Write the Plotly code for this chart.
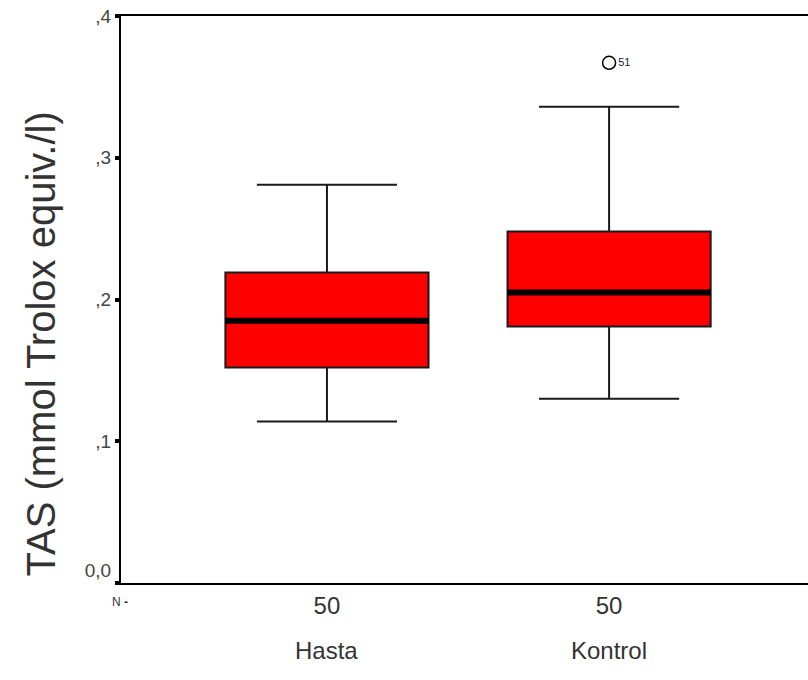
import plotly.graph_objects as go

# Group summary statistics (TAS, mmol Trolox equiv./l)
groups = ["Hasta", "Kontrol"]
n_counts = [50, 50]
lower_whisker = [0.114, 0.130]
q1 = [0.152, 0.181]
median = [0.185, 0.205]
q3 = [0.219, 0.248]
upper_whisker = [0.281, 0.336]

# Outlying case
outlier_group = [1]
outlier_value = [0.367]
outlier_case = ["51"]

y_ticks = [0.0, 0.1, 0.2, 0.3, 0.4]
y_ticktext = ["0,0<br> ", ",1", ",2", ",3", ",4"]

positions = list(range(len(groups)))
box_width = 0.72

fig = go.Figure()

fig.add_trace(go.Box(
    x=positions,
    q1=q1, median=median, q3=q3,
    lowerfence=lower_whisker, upperfence=upper_whisker,
    width=box_width,
    whiskerwidth=0.69,
    fillcolor="#ff0000",
    line=dict(color="#1a1a1a", width=2),
    boxpoints=False,
    showlegend=False,
    hoverinfo="skip",
))

# thick median bars
for p, m in zip(positions, median):
    fig.add_trace(go.Scatter(
        x=[p - box_width / 2, p + box_width / 2], y=[m, m],
        mode="lines", line=dict(color="#000000", width=6),
        showlegend=False, hoverinfo="skip",
    ))

fig.add_trace(go.Scatter(
    x=outlier_group, y=outlier_value,
    mode="markers+text",
    marker=dict(symbol="circle-open", size=13, color="#000000", line=dict(width=1.5)),
    text=outlier_case, textposition="middle right",
    textfont=dict(family="Arial, Liberation Sans, sans-serif", size=11, color="#1a1a3a"),
    showlegend=False, hoverinfo="skip",
))

font_family = "Arial, Liberation Sans, sans-serif"

fig.update_xaxes(
    range=[-0.730, 1.705],
    tickmode="array", tickvals=positions, ticktext=[str(n) for n in n_counts],
    tickfont=dict(family=font_family, size=24, color="#333333"),
    ticks="", showgrid=False, zeroline=False,
    showline=True, linecolor="#000000", linewidth=2, mirror=True,
)
fig.update_yaxes(
    range=[0, 0.4],
    tickmode="array", tickvals=y_ticks, ticktext=y_ticktext,
    tickfont=dict(family=font_family, size=19, color="#444444"),
    ticks="outside", ticklen=4, tickwidth=4, tickcolor="#000000",
    showgrid=False, zeroline=False,
    showline=True, linecolor="#000000", linewidth=2, mirror=False,
)

# y-axis title, placed in pixel terms from the plot's left edge
fig.add_annotation(
    x=0, y=0.5, xref="paper", yref="paper", xanchor="center", yanchor="middle",
    xshift=-81, yshift=-45,
    text="TAS (mmol Trolox equiv./l)", textangle=-90, showarrow=False,
    font=dict(family=font_family, size=40, color="#333333"),
)

# group names below the N row
for p, g in zip(positions, groups):
    fig.add_annotation(
        x=p, y=0, xref="x", yref="paper", yanchor="top",
        text=g, showarrow=False, yshift=-52,
        font=dict(family=font_family, size=24, color="#333333"),
    )

fig.add_annotation(
    x=0, y=0, xref="paper", yref="paper", xanchor="center", yanchor="top",
    text="N <b>-</b>", showarrow=False, xshift=-1, yshift=-10,
    font=dict(family=font_family, size=12, color="#333333"),
)

fig.update_layout(
    width=808, height=680,
    margin=dict(l=121, r=0, t=16, b=97),
    paper_bgcolor="#ffffff", plot_bgcolor="#ffffff",
)

fig.write_html("out.html")
